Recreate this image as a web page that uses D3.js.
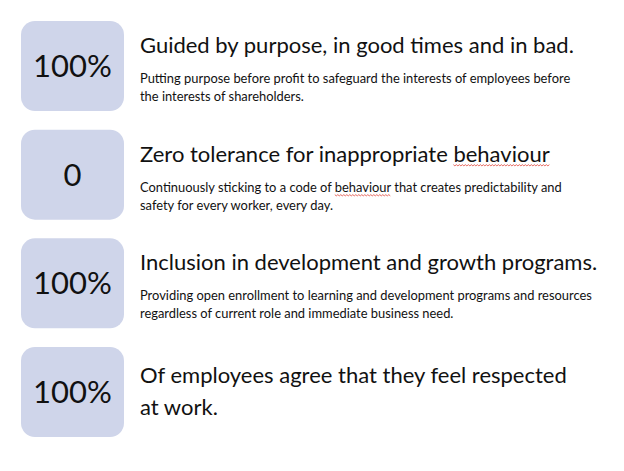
<!DOCTYPE html>
<html>
<head>
<meta charset="utf-8">
<script src="https://cdn.jsdelivr.net/npm/d3@7"></script>
<style>
  body { margin: 0; background: #fff; }
  svg { display: block; }
  text { font-family: Lato, "Open Sans", sans-serif; fill: #111; }
</style>
</head>
<body>
<div id="chart"></div>
<script>
// values shown in the boxes
var stats = ["100%", "0", "100%", "100%"];
// headline for each row (array = wrapped lines)
var headlines = [
  ["Guided by purpose, in good times and in bad."],
  ["Zero tolerance for inappropriate behaviour"],
  ["Inclusion in development and growth programs."],
  ["Of employees agree that they feel respected", "at work."]
];
// smaller description lines
var details = [
  ["Putting purpose before profit to safeguard the interests of employees before",
   "the interests of shareholders."],
  ["Continuously sticking to a code of behaviour that creates predictability and",
   "safety for every worker, every day."],
  ["Providing open enrollment to learning and development programs and resources",
   "regardless of current role and immediate business need."],
  []
];
// words flagged by the spell checker (red squiggle)
var flagged = ["behaviour"];

var w = 624;
var h = 471;

var svg = d3.select("#chart").append("svg")
  .attr("width", w)
  .attr("height", h);

var y = d3.scaleBand()
  .domain(d3.range(stats.length))
  .range([21, 437])
  .paddingInner(0.172);

var boxX = 21, boxW = 103;
var textX = 140;

var rows = svg.selectAll("g.row")
  .data(stats)
  .enter()
  .append("g")
  .attr("class", "row")
  .attr("transform", function(d, i) { return "translate(0," + y(i) + ")"; });

rows.append("rect")
  .attr("x", boxX)
  .attr("y", 0)
  .attr("width", boxW)
  .attr("height", y.bandwidth())
  .attr("rx", 14)
  .attr("fill", "#cfd5ea");

rows.append("text")
  .attr("x", boxX + boxW / 2)
  .attr("y", y.bandwidth() / 2)
  .attr("dy", "0.36em")
  .attr("text-anchor", "middle")
  .style("font-size", "31px")
  .text(function(d) { return d; });

// headline + description lines
rows.each(function(d, i) {
  var g = d3.select(this);
  var two = headlines[i].length > 1;
  headlines[i].forEach(function(line, k) {
    g.append("text")
      .attr("class", "head")
      .attr("x", textX)
      .attr("y", (two ? 36 : 32) + k * 32)
      .style("font-size", "22px")
      .text(line);
  });
  details[i].forEach(function(line, k) {
    g.append("text")
      .attr("class", "detail")
      .attr("x", textX)
      .attr("y", 62 + k * 18)
      .style("font-size", "12.9px")
      .text(line);
  });
});

// squiggles under flagged words
svg.selectAll("text.head, text.detail").each(function() {
  var node = this;
  var str = node.textContent;
  var base = +node.getAttribute("y");
  flagged.forEach(function(word) {
    var idx = str.indexOf(word);
    if (idx < 0) return;
    var x0 = node.getStartPositionOfChar(idx).x;
    var x1 = node.getEndPositionOfChar(idx + word.length - 1).x;
    var uy = base + 3;
    var pts = [];
    for (var x = x0, up = true; x <= x1; x += 1.5, up = !up) {
      pts.push([x, uy + (up ? 0 : 1.2)]);
    }
    d3.select(node.parentNode).append("path")
      .attr("d", d3.line()(pts))
      .attr("fill", "none")
      .attr("stroke", "#e0453a")
      .attr("stroke-width", 0.8);
  });
});
</script>
</body>
</html>
